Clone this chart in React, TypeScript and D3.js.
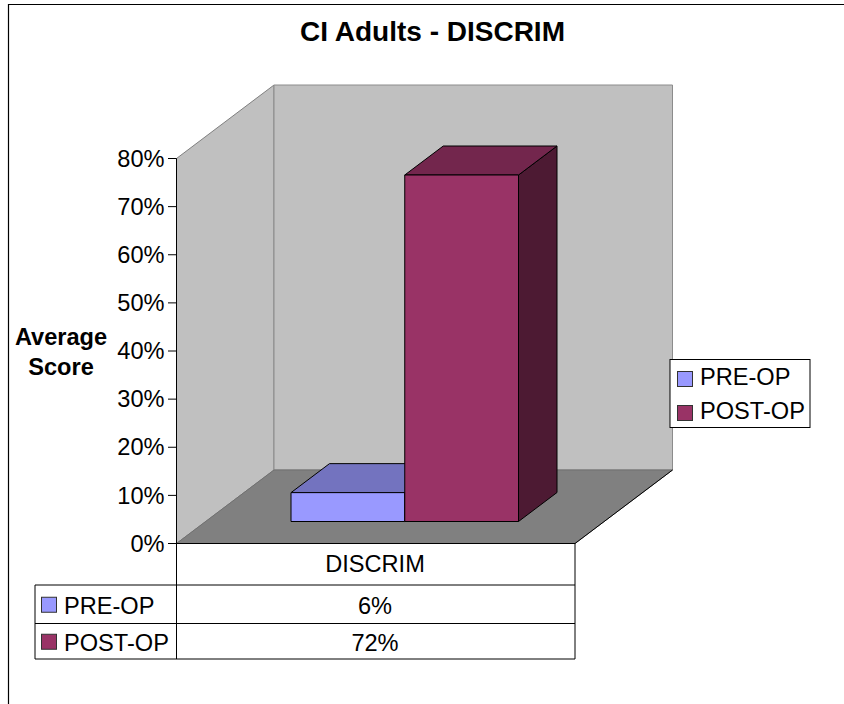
import React from "react";
import * as d3 from "d3";

const title = "CI Adults - DISCRIM";
const category = "DISCRIM";
const seriesNames = ["PRE-OP", "POST-OP"];
const seriesValues = [6, 72];
const valueLabels = ["6%", "72%"];
const tickValues = [0, 10, 20, 30, 40, 50, 60, 70, 80];
const frontColors = ["#9999FF", "#993366"];
const topColors = ["#7373BF", "#73264D"];
const sideColors = ["#7373BF", "#4D1A33"];

const FONT = "'Liberation Sans', Arial, sans-serif";
const FS = 23.6;

const y = d3.scaleLinear().domain([0, 80]).range([543.5, 158.5]);
const x = d3.scaleBand<string>().domain(seriesNames).range([291, 518.5]);
const xLeft = 176.5, xRight = 575;
const depth = { dx: 97.5, dy: -73.5 };
const barDepth = { dx: 38.5, dy: -29 };
const barBaseShift = -22;

const poly = (pts: [number, number][]) => {
  const l = d3.line();
  return l(pts) + "Z";
};

export default function App() {
  const y0 = y(0), yT = y(80);
  const bx = xLeft + depth.dx, bxr = xRight + depth.dx;
  const by0 = y0 + depth.dy, byT = yT + depth.dy;
  const rows = [585, 623.5, 659];
  return (
    <svg width={844} height={704} style={{ position: "absolute", left: 0, top: 0, background: "#fff" }} fontFamily={FONT}>
      <path d="M8.5 704V4.5H844" fill="none" stroke="#000" strokeWidth={1.2} />
      <text x={432.5} y={41} textAnchor="middle" fontSize={28} fontWeight="bold">{title}</text>

      {/* walls */}
      <path d={poly([[xLeft, y0], [bx, by0], [bx, byT], [xLeft, yT]])} fill="#C0C0C0" stroke="#808080" />
      <path d={poly([[bx, by0], [bxr, by0], [bxr, byT], [bx, byT]])} fill="#C0C0C0" stroke="#8c8c8c" />
      <path d={poly([[xLeft, y0], [xRight, y0], [bxr, by0], [bx, by0]])} fill="#808080" stroke="#707070" />
      <path d={`M${xLeft} ${y0}H${xRight}L${bxr} ${by0}`} fill="none" stroke="#000" />

      {/* bars */}
      {seriesNames.map((s, i) => {
        const l = x(s)!, r = l + x.bandwidth();
        const base = y(0) + barBaseShift;
        const top = base - (y(0) - y(seriesValues[i]));
        const d = barDepth;
        return (
          <g key={s} stroke="#000" strokeWidth={1} strokeLinejoin="round">
            <path d={poly([[r, base], [r + d.dx, base + d.dy], [r + d.dx, top + d.dy], [r, top]])} fill={sideColors[i]} />
            <path d={poly([[l, top], [r, top], [r + d.dx, top + d.dy], [l + d.dx, top + d.dy]])} fill={topColors[i]} />
            <rect x={l} y={top} width={r - l} height={base - top} fill={frontColors[i]} />
          </g>
        );
      })}

      {/* axis */}
      <line x1={xLeft} x2={xLeft} y1={yT} y2={rows[2]} stroke="#000" />
      {tickValues.map((t) => (
        <g key={t}>
          <line x1={168} x2={xLeft} y1={y(t)} y2={y(t)} stroke="#000" />
          <text x={164.5} y={y(t) + 8.2} textAnchor="end" fontSize={FS}>{t}%</text>
        </g>
      ))}
      <text fontSize={FS} fontWeight="bold" textAnchor="middle">
        <tspan x={61} y={345}>Average</tspan>
        <tspan x={61} y={375}>Score</tspan>
      </text>

      {/* data table */}
      <path d={`M${xRight} ${y0}V${rows[2]}H35V${rows[0]}H${xRight}M35 ${rows[1]}H${xRight}`} fill="none" stroke="#000" strokeWidth={1} />
      <text x={375} y={571.5} textAnchor="middle" fontSize={FS}>{category}</text>
      {seriesNames.map((s, i) => {
        const cy = (rows[i] + rows[i + 1]) / 2;
        return (
          <g key={s}>
            <rect x={41.5} y={cy - 7} width={15} height={15} fill={frontColors[i]} stroke="#333" />
            <text x={64} y={cy + 10} fontSize={FS}>{s}</text>
            <text x={375} y={cy + 10} textAnchor="middle" fontSize={FS}>{valueLabels[i]}</text>
          </g>
        );
      })}

      {/* legend */}
      <rect x={670} y={359.5} width={140} height={68} fill="#fff" stroke="#000" />
      {seriesNames.map((s, i) => (
        <g key={s}>
          <rect x={677.5} y={371.5 + i * 34} width={15} height={15} fill={frontColors[i]} stroke="#333" />
          <text x={700} y={384.7 + i * 34.5} fontSize={FS}>{s}</text>
        </g>
      ))}
    </svg>
  );
}
